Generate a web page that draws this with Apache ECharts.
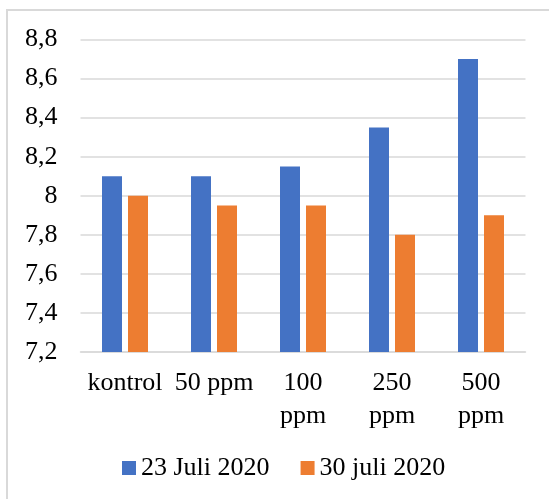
<!DOCTYPE html>
<html>
<head>
<meta charset="utf-8">
<script src="https://cdn.jsdelivr.net/npm/echarts@6/dist/echarts.min.js"></script>
<style>
  html, body { margin: 0; padding: 0; background: #fff; overflow: hidden; }
  #chart { width: 549px; height: 499px; }
</style>
</head>
<body>
<div id="chart"></div>
<script>
// pH readings per treatment on two sampling dates
const categories = ['kontrol', '50 ppm', '100\nppm', '250\nppm', '500\nppm'];
const seriesNames = ['23 Juli 2020', '30 juli 2020'];
const july23 = [8.1, 8.1, 8.15, 8.35, 8.7];
const july30 = [8.0, 7.95, 7.95, 7.8, 7.9];
const yMin = 7.2, yMax = 8.8, yStep = 0.2;

const FONT = "'Liberation Serif', 'Times New Roman', serif";
const GRID_COLOR = '#d9d9d9';

const chart = echarts.init(document.getElementById('chart'), null, { renderer: 'canvas' });

chart.setOption({
  animation: false,
  backgroundColor: '#fff',
  textStyle: { fontFamily: FONT },
  // chart frame: only its left and top edges fall inside the view
  graphic: [{
    type: 'polyline',
    shape: { points: [[7, 499], [7, 10], [549, 10]] },
    style: { fill: null, stroke: GRID_COLOR, lineWidth: 2 },
    silent: true
  }],
  grid: { left: 80.5, right: 23.5, top: 39.5, bottom: 147, containLabel: false },
  legend: {
    left: 122,
    top: 455,
    padding: 0,
    itemWidth: 14,
    itemHeight: 14,
    itemGap: 31,
    icon: 'rect',
    textStyle: { fontFamily: FONT, fontSize: 26, color: '#000' },
    data: seriesNames
  },
  xAxis: {
    type: 'category',
    data: categories,
    axisLine: { show: true, lineStyle: { color: GRID_COLOR, width: 1.5 } },
    axisTick: { show: false },
    axisLabel: {
      fontFamily: FONT, fontSize: 26, color: '#000',
      lineHeight: 33, margin: 15, interval: 0
    }
  },
  yAxis: {
    type: 'value',
    min: yMin, max: yMax, interval: yStep,
    axisLine: { show: false },
    axisTick: { show: false },
    splitLine: { lineStyle: { color: GRID_COLOR, width: 1.5 } },
    axisLabel: {
      fontFamily: FONT, fontSize: 26, color: '#000', margin: 23,
      formatter: v => String(+v.toFixed(1)).replace('.', ',')
    }
  },
  series: [
    { name: seriesNames[0], type: 'bar', data: july23, barWidth: 20, barGap: '30%',
      itemStyle: { color: '#4472C4' } },
    { name: seriesNames[1], type: 'bar', data: july30, barWidth: 20, barGap: '30%',
      itemStyle: { color: '#ED7D31' } }
  ]
});
</script>
</body>
</html>
